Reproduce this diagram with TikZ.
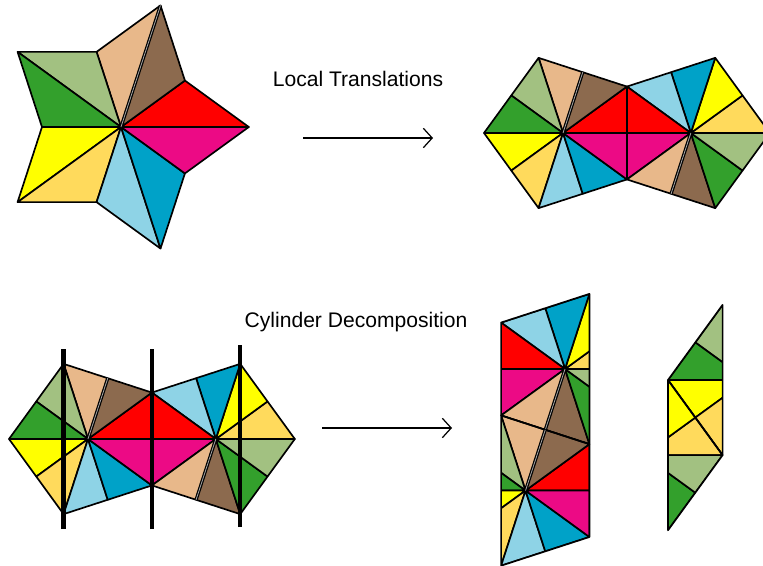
\documentclass[tikz,border=0pt]{standalone}
\usepackage{fontspec}
\setmainfont{Liberation Sans}
\usetikzlibrary{arrows.meta}

\definecolor{cred}{HTML}{FF0000}
\definecolor{cbrown}{HTML}{8C6A4E}
\definecolor{ctan}{HTML}{E8B88A}
\definecolor{clgreen}{HTML}{A2C181}
\definecolor{cdgreen}{HTML}{33A02C}
\definecolor{cyellow}{HTML}{FFFF00}
\definecolor{cgold}{HTML}{FFDA5C}
\definecolor{clblue}{HTML}{8ED3E6}
\definecolor{cblue}{HTML}{00A2C8}
\definecolor{cmag}{HTML}{EC0A85}

% radii: star tip, pentagon vertex, pentagon edge midpoint
\newcommand{\rout}{127.82}
\newcommand{\rver}{79}
\newcommand{\rmid}{63.91}
\newcommand{\lcols}{cred,cbrown,ctan,clgreen,cdgreen,cyellow,cgold,clblue,cblue,cmag}
\newcommand{\rcols}{cgold,cyellow,cblue,clblue,cred,cmag,ctan,cbrown,cdgreen,clgreen}

% ten triangles round the origin, #2 at even and #3 at odd multiples of 36 degrees
\newcommand{\fan}[3]{%
  \foreach \col [count=\k from 0] in #1{
    \ifodd\k \def\ra{#3}\def\rb{#2}\else\def\ra{#2}\def\rb{#3}\fi
    \filldraw[tri,fill=\col] (0,0) -- (36*\k:\ra) -- (36*\k+36:\rb) -- cycle;
  }}

\begin{document}
\begin{tikzpicture}[x=0.02cm,y=0.02cm,
    tri/.style={draw=black,line width=0.95pt,line join=round},
    seam/.style={draw=black,line width=0.7pt,double=gray!70,double distance=0.45pt},
    cut/.style={line width=2.4pt},
    lbl/.style={anchor=base,inner sep=0pt,font=\fontsize{12}{14}\selectfont},
    arr/.style={line width=0.7pt,-{Straight Barb[length=5pt,width=11pt,line width=0.7pt]}}]
  \useasboundingbox (0,0) rectangle (763,565);
  \clip (0,0) rectangle (763,565);

  % star
  \begin{scope}[shift={(121,438)}]
    \fan{\lcols}{\rout}{\rver}
    \draw[seam] (0,0) -- (72:\rout);
  \end{scope}

  % double pentagon after local translations
  \begin{scope}[shift={(563,432)}]
    \fan{\lcols}{\rmid}{\rver}
    \draw[seam] (0,0) -- (72:\rmid);
  \end{scope}
  \begin{scope}[shift={(690.82,432)}]
    \fan{\rcols}{\rver}{\rmid}
    \draw[seam] (0,0) -- (252:\rmid);
  \end{scope}

  % double pentagon with the cuts
  \begin{scope}[shift={(88,126)}]
    \fan{\lcols}{\rmid}{\rver}
    \draw[seam] (0,0) -- (72:\rmid);
  \end{scope}
  \begin{scope}[shift={(215.82,126)}]
    \fan{\rcols}{\rver}{\rmid}
    \draw[seam] (0,0) -- (252:\rmid);
  \end{scope}
  \draw[cut] (63.6,36) -- (63.6,216);
  \draw[cut] (151.9,36) -- (151.9,216);
  \draw[cut] (240.2,38) -- (240.2,220);

  % first cylinder
  \begin{scope}[shift={(565,196)}]
    \begin{scope}
      \clip (72:\rver) -- (144:\rver) -- (216:\rver) -- (288:\rver) -- cycle;
      \fan{\rcols}{\rver}{\rmid}
    \end{scope}
    \draw[tri] (72:\rver) -- (144:\rver) -- (216:\rver) -- (288:\rver) -- cycle;
    \draw[seam] (0,0) -- (252:\rmid);
  \end{scope}
  \begin{scope}[shift={(525.5,74.44)}]
    \begin{scope}
      \clip (36:\rver) -- (108:\rver) -- (252:\rver) -- (324:\rver) -- cycle;
      \fan{\lcols}{\rmid}{\rver}
    \end{scope}
    \draw[tri] (36:\rver) -- (108:\rver) -- (252:\rver) -- (324:\rver) -- cycle;
    \draw[seam] (0,0) -- (72:\rmid);
  \end{scope}

  % second cylinder
  \begin{scope}[shift={(747,185)}]
    \begin{scope}
      \clip (108:\rver) -- (180:\rver) -- (252:\rver) -- cycle;
      \fan{\lcols}{\rmid}{\rver}
    \end{scope}
    \draw[tri] (108:\rver) -- (180:\rver) -- (252:\rver) -- cycle;
  \end{scope}
  \begin{scope}[shift={(643.59,109.87)}]
    \begin{scope}
      \clip (0:\rver) -- (72:\rver) -- (288:\rver) -- cycle;
      \fan{\rcols}{\rver}{\rmid}
    \end{scope}
    \draw[tri] (0:\rver) -- (72:\rver) -- (288:\rver) -- cycle;
  \end{scope}

  \node[lbl] (lt) at (358,478) {Local Translations};
  \node[lbl] (cd) at (356,238) {Cylinder Decomposition};

  \coordinate (a1) at (303,427);
  \coordinate (a2) at (433,427);
  \coordinate (b1) at (322,137);
  \coordinate (b2) at (452,137);
  \draw[arr] (a1) -- (a2);
  \draw[arr] (b1) -- (b2);
\end{tikzpicture}
\end{document}
